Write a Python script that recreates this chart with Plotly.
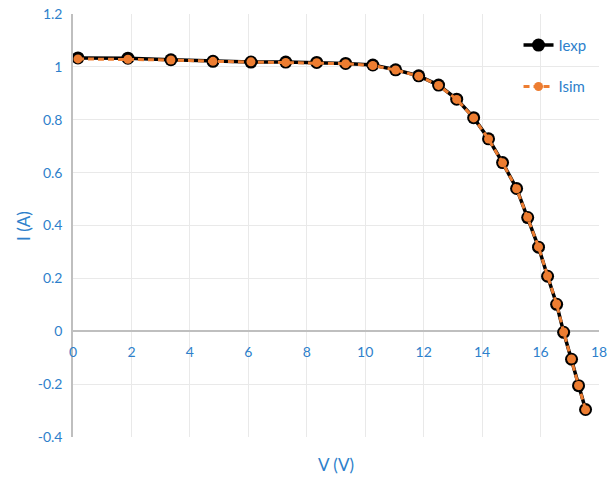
import plotly.graph_objects as go

V_exp = [0.17, 1.88, 3.35, 4.79, 6.09, 7.28, 8.34, 9.33, 10.26, 11.04, 11.83, 12.51, 13.13,
         13.71, 14.22, 14.70, 15.18, 15.56, 15.93, 16.24, 16.55, 16.79, 17.06, 17.30, 17.54]
I_exp = [1.034, 1.033, 1.027, 1.021, 1.018, 1.018, 1.017, 1.013, 1.007, 0.989, 0.966, 0.931, 0.878,
         0.808, 0.728, 0.638, 0.540, 0.430, 0.318, 0.208, 0.102, -0.004, -0.106, -0.206, -0.296]
V_sim = V_exp
I_sim = [1.030, 1.029, 1.026, 1.021, 1.019, 1.017, 1.016, 1.012, 1.005, 0.988, 0.965, 0.930, 0.877,
         0.807, 0.727, 0.637, 0.539, 0.431, 0.319, 0.209, 0.103, -0.003, -0.105, -0.205, -0.297]

y_ticks = [-0.4, -0.2, 0, 0.2, 0.4, 0.6, 0.8, 1.0, 1.2]
y_labels = ["-0.4", "-0.2", "0", "0.2", "0.4", "0.6", "0.8", "1", "1.2"]
x_ticks = [0, 2, 4, 6, 8, 10, 12, 14, 16, 18]
x_labels = ["0", "2", "4", "6", "8", "10", "12", "14", "16", "18"]

BLUE = "#2E7FCB"
FONT = "Lato"

fig = go.Figure()
fig.add_trace(go.Scatter(
    x=V_exp, y=I_exp, name="Iexp", mode="lines+markers", legendgroup="a",
    line=dict(color="black", width=3.5),
    marker=dict(color="black", size=13, symbol="circle"),
))
fig.add_trace(go.Scatter(
    x=V_sim, y=I_sim, name="Isim", mode="lines+markers", legendgroup="b",
    line=dict(color="#ED7D31", width=3, dash="6px,4px"),
    marker=dict(color="#ED7D31", size=9, symbol="circle"),
))

fig.update_layout(
    width=607, height=479,
    margin=dict(l=73, r=8, t=14, b=42, autoexpand=False),
    paper_bgcolor="white", plot_bgcolor="white",
    font=dict(family=FONT, color=BLUE, size=13),
    showlegend=True,
    legend=dict(x=0.847, y=0.965, xanchor="left", yanchor="top",
                bgcolor="rgba(0,0,0,0)", font=dict(size=15, color=BLUE),
                tracegroupgap=19),
    xaxis=dict(range=[0, 18], tickvals=x_ticks, ticktext=x_labels,
               showgrid=True, gridcolor="#E9E9E9", gridwidth=1,
               zeroline=False, showline=False, ticks="",
               anchor="free", position=0.25, ticklabeloverflow="allow",
               ticklabelstandoff=11, automargin=False,
               tickfont=dict(size=14, color=BLUE, family=FONT)),
    yaxis=dict(range=[-0.4, 1.2], tickvals=y_ticks, ticktext=y_labels,
               showgrid=True, gridcolor="#E9E9E9", gridwidth=1,
               zeroline=True, zerolinecolor="#BFBFBF", zerolinewidth=1.5,
               showline=True, linecolor="#BFBFBF", linewidth=1.5, ticks="",
               ticklabelstandoff=6, automargin=False,
               tickfont=dict(size=14, color=BLUE, family=FONT)),
    annotations=[
        dict(text="V (V)", x=0.5, y=-0.095, xref="paper", yref="paper",
             showarrow=False, font=dict(size=17, color=BLUE, family=FONT)),
        dict(text="I (A)", x=-0.118, y=0.5, xref="paper", yref="paper", textangle=-90,
             showarrow=False, font=dict(size=17, color=BLUE, family=FONT)),
    ],
)

fig.write_html("out.html")
